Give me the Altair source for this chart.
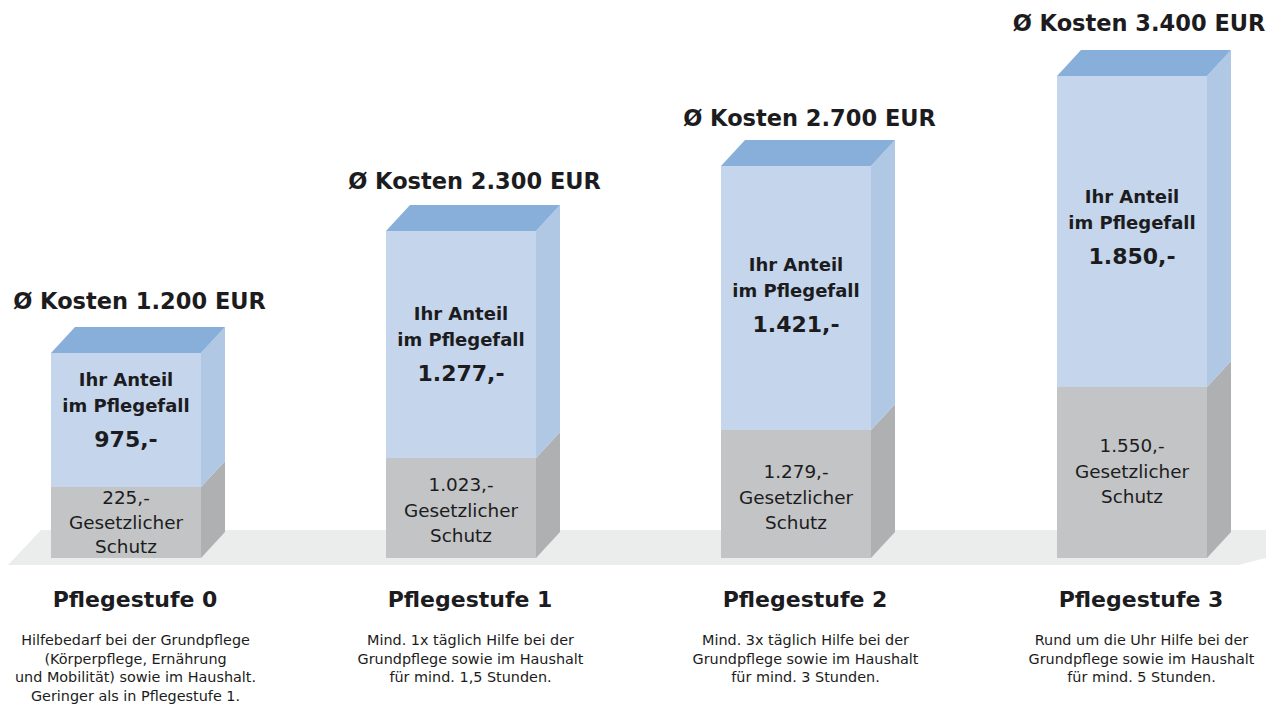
import altair as alt
import pandas as pd

# ---- values
stufen = ["Pflegestufe 0", "Pflegestufe 1", "Pflegestufe 2", "Pflegestufe 3"]
kosten = ["1.200", "2.300", "2.700", "3.400"]
anteil = ["975,-", "1.277,-", "1.421,-", "1.850,-"]
schutz = ["225,-", "1.023,-", "1.279,-", "1.550,-"]
# The source graphic is not to scale: heights are those of the drawn columns
schutz_hoehe = [71, 100, 128, 171]
anteil_hoehe = [134, 227, 264, 311]
beschreibung = [
    ["Hilfebedarf bei der Grundpflege", "(Körperpflege, Ernährung", "und Mobilität) sowie im Haushalt.", "Geringer als in Pflegestufe 1."],
    ["Mind. 1x täglich Hilfe bei der", "Grundpflege sowie im Haushalt", "für mind. 1,5 Stunden."],
    ["Mind. 3x täglich Hilfe bei der", "Grundpflege sowie im Haushalt", "für mind. 3 Stunden."],
    ["Rund um die Uhr Hilfe bei der", "Grundpflege sowie im Haushalt", "für mind. 5 Stunden."],
]
anteil_abstand = [28, 84, 100, 122]
schutz_abstand = [11, 27, 42, 59]
kosten_abstand = [25, 23, 21, 26]

FONT = "DejaVu Sans"
INK = "#1c1c20"
C_FLOOR, C_TOP, C_BLUE, C_BLUE_S, C_GREY, C_GREY_S = "#ebedec", "#88aeda", "#c4d5ec", "#b1c8e4", "#c3c4c6", "#afb0b2"
LEFT = [51, 386, 721, 1057]
W, DX, DY = 150, 24, 26
LINE = 26

faces, fronts, texts = [], [], []


def face(name, color, pts):
    for x, y, y2 in pts:
        faces.append(dict(face=name, color=color, x=x, y=y, y2=y2))


face("floor", C_FLOOR, [(8, -7, -7), (41, 28, -7), (1238, 28, -7), (1266, 28, 0)])


def text(style, x, y, t):
    texts.append(dict(style=style, x=x, y=y, t=t))


for i, left in enumerate(LEFT):
    g, b = schutz_hoehe[i], schutz_hoehe[i] + anteil_hoehe[i]
    r = left + W
    c = left + W / 2
    fronts.append(dict(x=left, x2=r, y=0, y2=g, color=C_GREY))
    fronts.append(dict(x=left, x2=r, y=g, y2=b, color=C_BLUE))
    face(f"gs{i}", C_GREY_S, [(r, g, 0), (r + DX, g + DY, DY)])
    face(f"bs{i}", C_BLUE_S, [(r, b, g), (r + DX, b + DY, g + DY)])
    face(f"t{i}", C_TOP, [(left, b, b), (left + DX, b + DY, b), (r, b + DY, b), (r + DX, b + DY, b + DY)])

    shift = 7 if i == 3 else 13.5
    text("kosten", c + shift, b + DY + kosten_abstand[i], f"Ø Kosten {kosten[i]} EUR")
    y = b - anteil_abstand[i]
    text("anteil", c, y, "Ihr Anteil")
    text("anteil", c, y - LINE, "im Pflegefall")
    text("betrag", c, y - LINE - 33, anteil[i])
    y = g - schutz_abstand[i]
    step = 24.5 if i == 0 else 25.7
    text("schutz", c, y, schutz[i])
    text("schutz", c, y - step, "Gesetzlicher")
    text("schutz", c, y - 2 * step, "Schutz")
    text("stufe", c + 9, -42, stufen[i])
    for j, line in enumerate(beschreibung[i]):
        text("besch", c + 9.5, -83 - j * 18.6, line)

xs = alt.Scale(domain=[8, 1266], range=[0, 1258], nice=False, zero=False)
ys = alt.Scale(domain=[-146, 550], range=[696, 0], nice=False, zero=False)
X = alt.X("x:Q", scale=xs, axis=None)
Y = alt.Y("y:Q", scale=ys, axis=None)
COL = alt.Color("color:N", scale=None, legend=None)

df_faces = pd.DataFrame(faces)
df_fronts = pd.DataFrame(fronts)
df_text = pd.DataFrame(texts)

floor = alt.Chart(df_faces[df_faces.face == "floor"]).mark_area(opacity=1).encode(X, Y, y2="y2:Q", color=COL, detail="face:N")
front = alt.Chart(df_fronts).mark_rect().encode(X, Y, x2="x2:Q", y2="y2:Q", color=COL)
sides = alt.Chart(df_faces[df_faces.face != "floor"]).mark_area(opacity=1).encode(X, Y, y2="y2:Q", color=COL, detail="face:N")

styles = {
    "kosten": dict(size=22.5, weight=700),
    "anteil": dict(size=18, weight=700),
    "betrag": dict(size=22, weight=700),
    "schutz": dict(size=18.4, weight=400),
    "stufe": dict(size=22, weight=700),
    "besch": dict(size=14.4, weight=400),
}
labels = [
    alt.Chart(df_text[df_text["style"] == k])
    .mark_text(font=FONT, color=INK, align="center", baseline="middle", fontSize=s["size"], fontWeight=s["weight"])
    .encode(X, Y, text="t:N")
    for k, s in styles.items()
]

chart = (
    alt.layer(floor, front, sides, *labels)
    .resolve_scale(color="independent")
    .properties(width=1258, height=696, padding=0, autosize=alt.AutoSizeParams(type="none"))
    .configure_view(stroke=None)
)
chart.save("out.html", embed_options={"renderer": "svg", "actions": False})
